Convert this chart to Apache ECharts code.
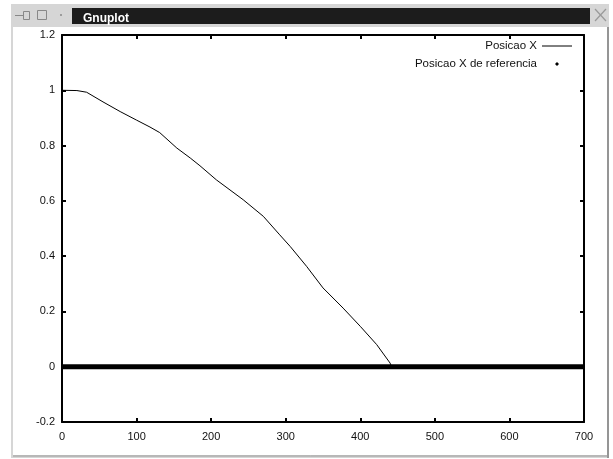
<!DOCTYPE html>
<html>
<head>
<meta charset="utf-8">
<script src="https://cdn.jsdelivr.net/npm/echarts@6/dist/echarts.min.js"></script>
<style>
  html, body { margin: 0; padding: 0; background: #fff; }
  #chart { width: 613px; height: 459px; }
</style>
</head>
<body>
<div id="chart"></div>
<script>
// traced curve: Posicao X
const posX = [0, 20, 33, 55, 78, 100, 118, 131, 154, 172, 185, 207, 243, 270, 292, 306, 328, 350, 377, 400, 422, 440, 442];
const posY = [1.0, 0.999, 0.993, 0.958, 0.923, 0.892, 0.867, 0.847, 0.791, 0.755, 0.727, 0.676, 0.604, 0.544, 0.477, 0.435, 0.363, 0.285, 0.212, 0.146, 0.080, 0.013, 0.0];

// reference points sit on zero along the whole range
const refX = [0, 700];
const refY = [0, 0];

const xTicks = [0, 100, 200, 300, 400, 500, 600, 700];
const yTicks = [-0.2, 0, 0.2, 0.4, 0.6, 0.8, 1, 1.2];

const font = 'Liberation Sans, Arial, sans-serif';
const zip = (a, b) => a.map((v, i) => [v, b[i]]);

const chart = echarts.init(document.getElementById('chart'));

const axisLine = { onZero: false, lineStyle: { color: '#000', width: 2 } };
const tick = { inside: true, length: 4, lineStyle: { color: '#000', width: 2 } };

const options = {
  backgroundColor: '#fff',
  animation: false,
  title: {
    text: 'Gnuplot',
    left: 78,
    top: 8,
    textStyle: { color: '#fff', fontFamily: font, fontSize: 12, fontWeight: 'bold' }
  },
  graphic: [
    // window frame
    { type: 'rect', z: -20, shape: { x: 11, y: 4, width: 598, height: 454 }, style: { fill: '#d6d6d6' } },
    { type: 'rect', z: -19, shape: { x: 72, y: 8, width: 518, height: 16 }, style: { fill: '#1c1c1c' } },
    { type: 'rect', z: -19, shape: { x: 13, y: 27, width: 594, height: 428 }, style: { fill: '#fff' } },
    { type: 'line', z: -18, shape: { x1: 608, y1: 27, x2: 608, y2: 458 }, style: { stroke: '#555', lineWidth: 1 } },
    { type: 'line', z: -18, shape: { x1: 13, y1: 456, x2: 608, y2: 456 }, style: { stroke: '#999', lineWidth: 1 } },
    // title bar icons
    { type: 'line', z: -18, shape: { x1: 15, y1: 15.5, x2: 23, y2: 15.5 }, style: { stroke: '#888', lineWidth: 1 } },
    { type: 'rect', z: -18, shape: { x: 23.5, y: 11.5, width: 6, height: 8 }, style: { fill: 'none', stroke: '#888', lineWidth: 1 } },
    { type: 'rect', z: -18, shape: { x: 37.5, y: 10.5, width: 9, height: 9 }, style: { fill: 'none', stroke: '#888', lineWidth: 1 } },
    { type: 'circle', z: -18, shape: { cx: 61, cy: 15, r: 1 }, style: { fill: '#888' } },
    { type: 'line', z: -18, shape: { x1: 595, y1: 9, x2: 606, y2: 21 }, style: { stroke: '#999', lineWidth: 1.2 } },
    { type: 'line', z: -18, shape: { x1: 606, y1: 9, x2: 595, y2: 21 }, style: { stroke: '#999', lineWidth: 1.2 } }
  ],
  legend: {
    orient: 'vertical',
    align: 'right',
    right: 35,
    top: 35,
    itemWidth: 30,
    itemHeight: 5,
    itemGap: 6,
    textStyle: { fontFamily: font, fontSize: 11.5, color: '#111' },
    data: [
      { name: 'Posicao X', itemStyle: { opacity: 0 }, lineStyle: { width: 1 } },
      { name: 'Posicao X de referencia', lineStyle: { opacity: 0 } }
    ]
  },
  grid: { left: 62, right: 29, top: 35, bottom: 37 },
  xAxis: [
    {
      type: 'value', position: 'bottom', min: 0, max: 700, interval: 100,
      axisLine: axisLine, axisTick: tick, splitLine: { show: false },
      axisLabel: { margin: 9, fontFamily: font, fontSize: 11, color: '#111' }
    },
    {
      type: 'value', position: 'top', min: 0, max: 700, interval: 100,
      axisLine: axisLine, axisTick: tick, splitLine: { show: false },
      axisLabel: { show: false }
    }
  ],
  yAxis: [
    {
      type: 'value', position: 'left', min: -0.2, max: 1.2, interval: 0.2,
      axisLine: axisLine, axisTick: tick, splitLine: { show: false },
      axisLabel: {
        margin: 7, fontFamily: font, fontSize: 11, color: '#111',
        formatter: v => String(Math.round(v * 10) / 10)
      }
    },
    {
      type: 'value', position: 'right', min: -0.2, max: 1.2, interval: 0.2,
      axisLine: axisLine, axisTick: tick, splitLine: { show: false },
      axisLabel: { show: false }
    }
  ],
  series: [
    {
      name: 'Posicao X',
      type: 'line',
      data: zip(posX, posY),
      symbol: 'none',
      color: '#000',
      lineStyle: { color: '#000', width: 1 },
      z: 3
    },
    {
      name: 'Posicao X de referencia',
      type: 'line',
      data: zip(refX, refY),
      symbol: 'diamond',
      showSymbol: false,
      color: '#000',
      lineStyle: { color: '#000', width: 5 },
      z: 4
    }
  ]
};

chart.setOption(options);
</script>
</body>
</html>
